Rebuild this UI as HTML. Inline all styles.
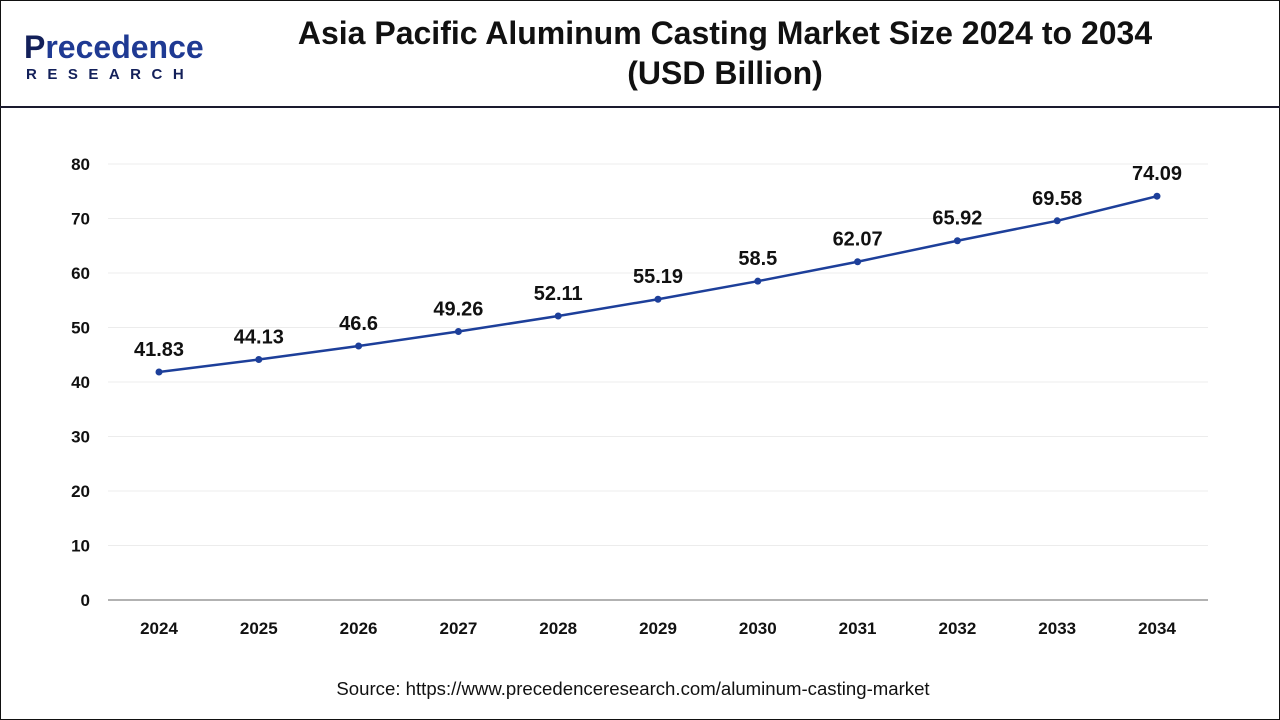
<!DOCTYPE html>
<html><head><meta charset="utf-8"><style>
body{margin:0;width:1280px;height:720px;overflow:hidden;background:#fff;font-family:"Liberation Sans",sans-serif}
#frame{position:absolute;left:0;top:0;width:1278px;height:718px;border:1px solid #111}
#hdr{position:absolute;left:0;top:106px;width:1280px;height:2px;background:#1a1a2e}
</style></head><body>
<div id="frame"></div>
<div id="hdr"></div>
<div style="position:absolute;left:24px;top:30px;">
<div style="font-size:32px;font-weight:bold;color:#1f3a93;line-height:34px;"><span style="color:#13205a">P</span>recedence</div>
<div style="font-size:15px;font-weight:bold;color:#13205a;letter-spacing:10.5px;margin-top:2px;margin-left:2px">RESEARCH</div>
</div>
<div style="position:absolute;left:230px;width:990px;top:13px;text-align:center;font-size:32px;font-weight:bold;color:#111;line-height:40px">Asia Pacific Aluminum Casting Market Size 2024 to 2034<br>(USD Billion)</div>
<svg id="c" width="1280" height="720" style="position:absolute;left:0;top:0"></svg>
<div style="position:absolute;left:0;width:1266px;top:678px;text-align:center;font-size:18.6px;color:#111">Source: https://www.precedenceresearch.com/aluminum-casting-market</div>
<script>
const years=["2024","2025","2026","2027","2028","2029","2030","2031","2032","2033","2034"];
const values=[41.83,44.13,46.6,49.26,52.11,55.19,58.5,62.07,65.92,69.58,74.09];
const labels=["41.83","44.13","46.6","49.26","52.11","55.19","58.5","62.07","65.92","69.58","74.09"];
const yTicks=[0,10,20,30,40,50,60,70,80];
const svg=document.getElementById('c');const NS="http://www.w3.org/2000/svg";
const x=i=>159+i*99.8; const y=v=>600-v*5.45;
function mk(t,a){const e=document.createElementNS(NS,t);for(const k in a)e.setAttribute(k,a[k]);svg.appendChild(e);return e;}
yTicks.forEach(t=>{
 if(t>0){const g=mk('line',{x1:108,x2:1208,y1:y(t),y2:y(t),stroke:'#ececec','stroke-width':1});
 
 }
 const l=mk('text',{x:90,y:y(t)+6,'text-anchor':'end','font-size':17,'font-weight':'bold',fill:'#111'});l.textContent=t;
 
 
});
const ax=mk('line',{x1:108,x2:1208,y1:600,y2:600,stroke:'#999','stroke-width':1.5});


years.forEach((yr,i)=>{const l=mk('text',{x:x(i),y:634,'text-anchor':'middle','font-size':17,'font-weight':'bold',fill:'#111'});l.textContent=yr;
 
 });
const p=mk('polyline',{points:values.map((v,i)=>x(i)+','+y(v)).join(' '),fill:'none',stroke:'#1d3f9a','stroke-width':2.5});


values.forEach((v,i)=>{const c=mk('circle',{cx:x(i),cy:y(v),r:3.5,fill:'#1d3f9a'});
 
 
 const t=mk('text',{x:x(i),y:y(v)-16,'text-anchor':'middle','font-size':20,'font-weight':'bold',fill:'#111'});t.textContent=labels[i];
 
 });
</script>
</body></html>
